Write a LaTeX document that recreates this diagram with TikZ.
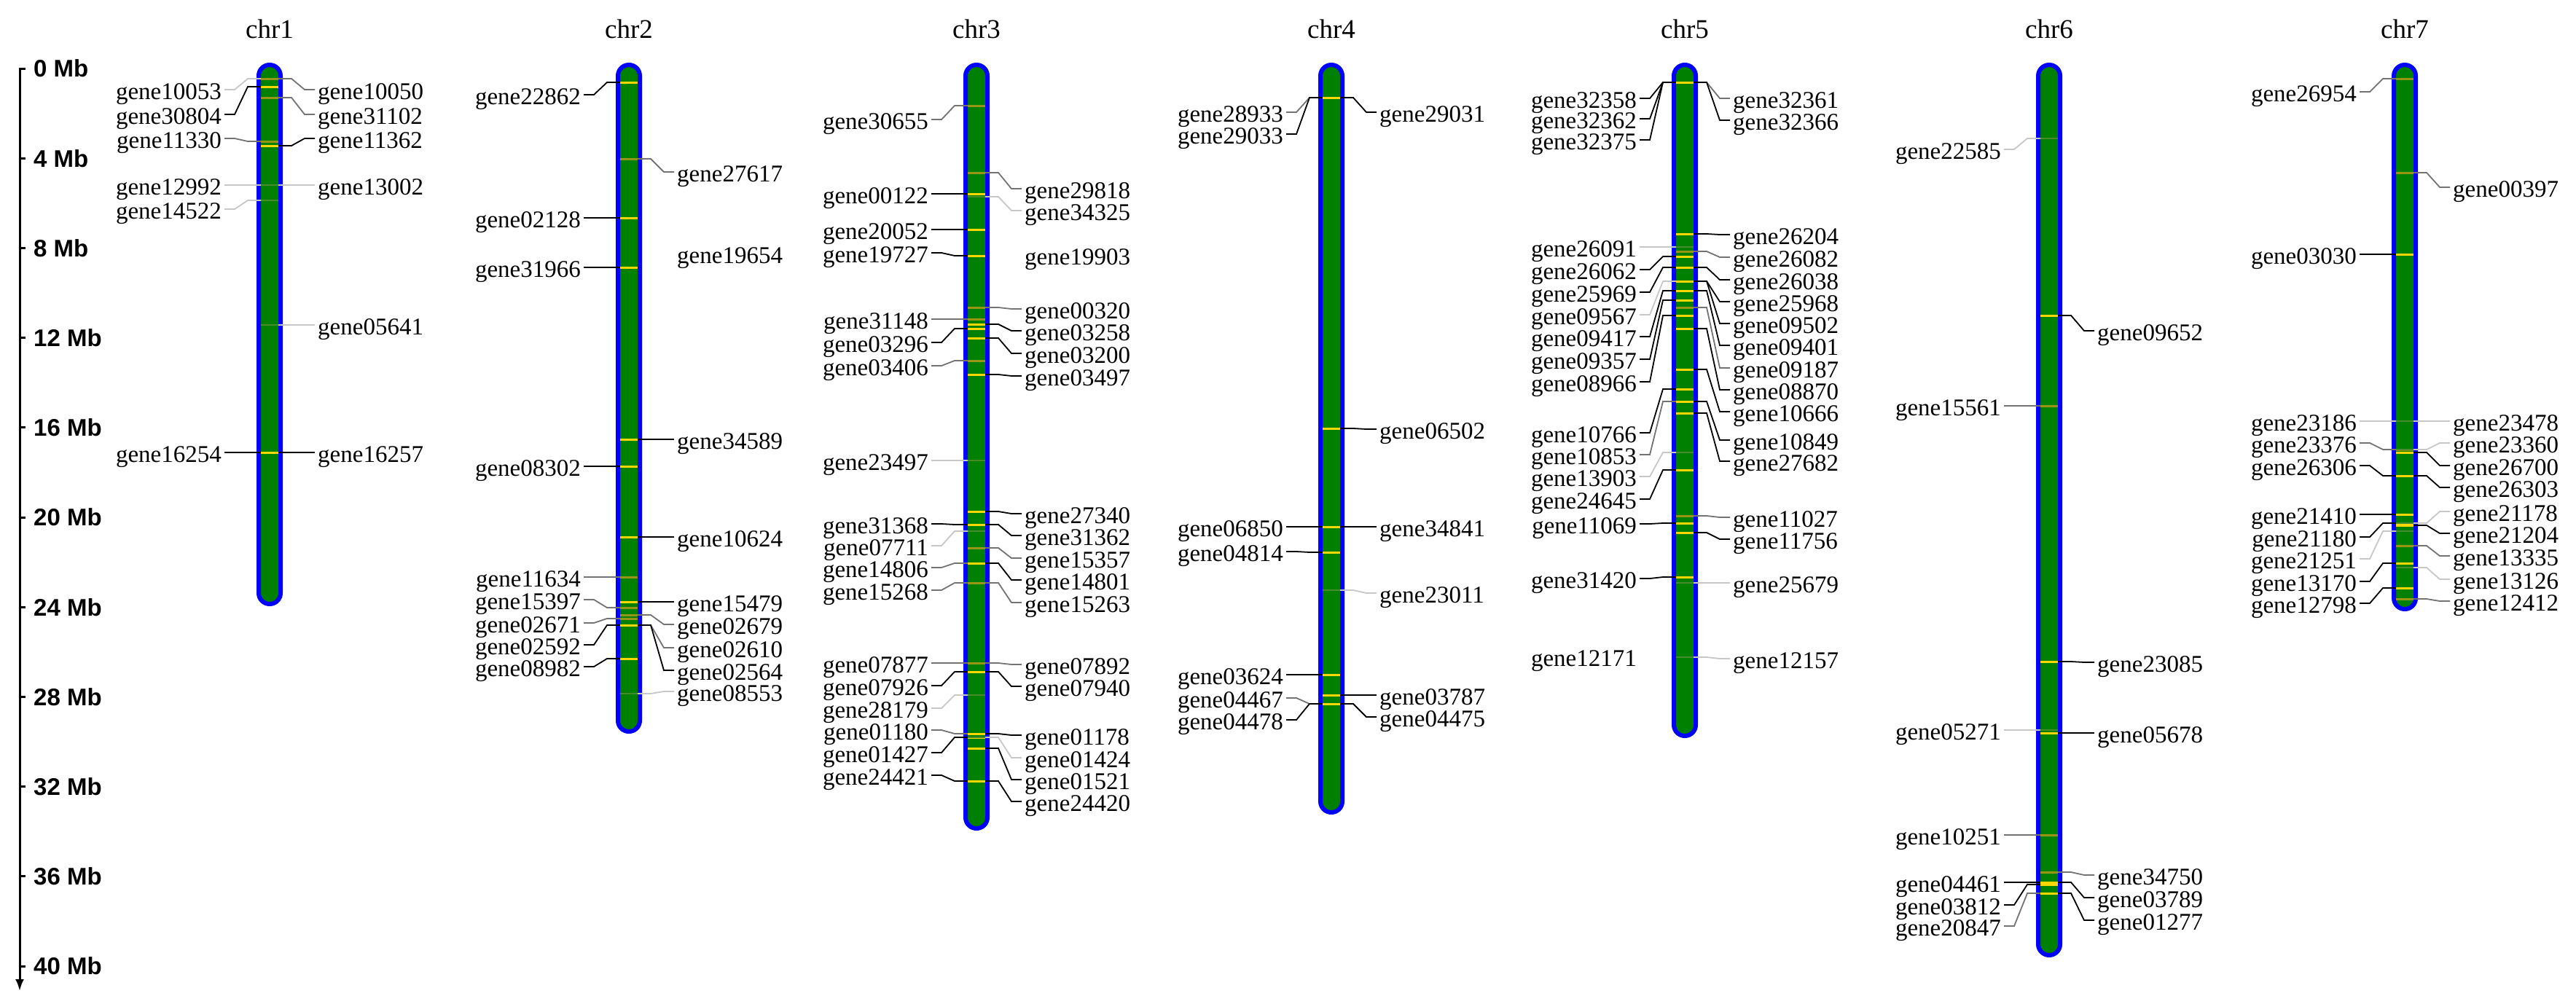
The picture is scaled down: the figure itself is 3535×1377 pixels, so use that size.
\documentclass[tikz,border=0pt]{standalone}
\usepackage{fontspec}
\setmainfont{Liberation Serif}
\newfontfamily\axisfont{Liberation Sans}
\usetikzlibrary{calc,arrows.meta}
\definecolor{chrgreen}{RGB}{0,128,0}
\definecolor{chrblue}{RGB}{0,0,255}
\definecolor{mkyellow}{RGB}{255,215,0}
\definecolor{mkolive}{RGB}{150,150,20}
\definecolor{mklight}{RGB}{70,140,45}
\tikzset{
  lab/.style={font=\fontsize{33}{36}\selectfont, inner sep=0pt},
  ctitle/.style={font=\fontsize{37}{40}\selectfont, inner sep=0pt},
  axlab/.style={font=\axisfont\bfseries\fontsize{33}{36}\selectfont, inner sep=0pt},
  axisline/.style={line width=3pt, black},
  chrbody/.style={rectangle, draw=chrblue, fill=chrgreen, line width=6pt, rounded corners=15pt, minimum width=30pt, inner sep=0pt},
  conk/.style={line width=1.8pt, black},
  cong/.style={line width=1.8pt, black!55},
  conl/.style={line width=1.8pt, black!22},
  mkk/.style={line width=3pt, mkyellow},
  mkg/.style={line width=3pt, mkolive},
  mkl/.style={line width=2.5pt, mklight},
}
\newcommand\chrom[4]{%
  \node[chrbody, minimum height={#3-92}] (#1) at (#2,{(86+#3)/2}) {};
  \node[ctitle] (#1t) at (#2,40) {#4};
}
\newcommand\gL[5]{%
  \node[lab, anchor=base east] (#2) at ({#1-66},{#3+13}) {#2};
  \coordinate (#2m) at ({#1-12},#4);
  \draw[mk#5] (#2m) -- ({#1+12},#4);
  \draw[con#5] ($(#2.base east)+(4,-13)$) -- ++(14,0) -- ({#1-30},#4) -- (#2m);
}
\newcommand\gR[5]{%
  \node[lab, anchor=base west] (#2) at ({#1+66},{#3+13}) {#2};
  \coordinate (#2m) at ({#1+12},#4);
  \draw[mk#5] ({#1-12},#4) -- (#2m);
  \draw[con#5] (#2m) -- ({#1+30},#4) -- ({#1+48},#3) -- ($(#2.base west)+(-4,-13)$);
}
\begin{document}
\begin{tikzpicture}[x=1pt, y=-1pt]
\useasboundingbox (0,0) rectangle (3535,1377);
% axis
\draw[axisline, -{Latex[length=16pt,width=12pt]}] (35,94) -- (27,94) -- (27,1360);
\foreach \m in {4,8,...,40} \draw[axisline] (27,{94+\m*30.8}) -- (35,{94+\m*30.8});
\foreach \m in {0,4,...,40} \node[axlab, anchor=west] (mb\m) at (46,{94+\m*30.8}) {\m\ Mb};
% chromosomes
\chrom{c1}{370}{832}{chr1}
\chrom{c2}{863}{1007}{chr2}
\chrom{c3}{1340}{1140}{chr3}
\chrom{c4}{1827}{1118}{chr4}
\chrom{c5}{2312}{1013}{chr5}
\chrom{c6}{2812}{1314}{chr6}
\chrom{c7}{3300}{839}{chr7}
% chr1
\gL{370}{gene10053}{123}{108}{l}
\gL{370}{gene30804}{157}{119}{k}
\gL{370}{gene11330}{190}{194}{g}
\gL{370}{gene12992}{254}{254}{l}
\gL{370}{gene14522}{287}{275}{l}
\gL{370}{gene16254}{621}{621}{k}
\gR{370}{gene10050}{123}{108}{g}
\gR{370}{gene31102}{157}{134}{g}
\gR{370}{gene11362}{190}{200}{k}
\gR{370}{gene13002}{254}{254}{l}
\gR{370}{gene05641}{446}{446}{l}
\gR{370}{gene16257}{621}{621}{k}
% chr2
\gL{863}{gene22862}{130}{113}{k}
\gL{863}{gene02128}{299}{299}{k}
\gL{863}{gene31966}{367}{367}{k}
\gL{863}{gene08302}{640}{640}{k}
\gL{863}{gene11634}{792}{792}{g}
\gL{863}{gene15397}{823}{834}{g}
\gL{863}{gene02671}{855}{849}{g}
\gL{863}{gene02592}{885}{858}{k}
\gL{863}{gene08982}{915}{904}{k}
\gR{863}{gene27617}{236}{218}{g}
\node[lab, anchor=base west] (gene19654) at (929,361) {gene19654};
\gR{863}{gene34589}{603}{603}{k}
\gR{863}{gene10624}{737}{737}{k}
\gR{863}{gene15479}{826}{826}{k}
\gR{863}{gene02679}{857}{844}{g}
\gR{863}{gene02610}{889}{858}{g}
\gR{863}{gene02564}{920}{858}{k}
\gR{863}{gene08553}{949}{952}{l}
% chr3
\gL{1340}{gene30655}{164}{145}{g}
\gL{1340}{gene00122}{266}{266}{k}
\gL{1340}{gene20052}{315}{315}{k}
\gL{1340}{gene19727}{347}{351}{k}
\gL{1340}{gene31148}{438}{438}{g}
\gL{1340}{gene03296}{470}{451}{k}
\gL{1340}{gene03406}{502}{495}{g}
\gL{1340}{gene23497}{632}{632}{l}
\gL{1340}{gene31368}{719}{720}{k}
\gL{1340}{gene07711}{749}{729}{l}
\gL{1340}{gene14806}{779}{773}{g}
\gL{1340}{gene15268}{810}{800}{g}
\gL{1340}{gene07877}{910}{910}{g}
\gL{1340}{gene07926}{941}{922}{k}
\gL{1340}{gene28179}{972}{954}{l}
\gL{1340}{gene01180}{1002}{1007}{g}
\gL{1340}{gene01427}{1033}{1012}{k}
\gL{1340}{gene24421}{1064}{1072}{k}
\gR{1340}{gene29818}{259}{237}{g}
\gR{1340}{gene34325}{289}{270}{l}
\node[lab, anchor=base west] (gene19903) at (1406,363) {gene19903};
\gR{1340}{gene00320}{424}{422}{g}
\gR{1340}{gene03258}{454}{445}{k}
\gR{1340}{gene03200}{485}{464}{k}
\gR{1340}{gene03497}{516}{514}{k}
\gR{1340}{gene27340}{705}{702}{k}
\gR{1340}{gene31362}{735}{720}{k}
\gR{1340}{gene15357}{766}{752}{g}
\gR{1340}{gene14801}{796}{773}{k}
\gR{1340}{gene15263}{827}{800}{g}
\gR{1340}{gene07892}{912}{910}{g}
\gR{1340}{gene07940}{942}{922}{k}
\gR{1340}{gene01178}{1009}{1007}{k}
\gR{1340}{gene01424}{1040}{1012}{l}
\gR{1340}{gene01521}{1070}{1027}{k}
\gR{1340}{gene24420}{1100}{1072}{k}
% chr4
\gL{1827}{gene28933}{154}{134}{g}
\gL{1827}{gene29033}{184}{134}{k}
\gL{1827}{gene06850}{723}{723}{k}
\gL{1827}{gene04814}{757}{758}{k}
\gL{1827}{gene03624}{926}{926}{k}
\gL{1827}{gene04467}{958}{966}{g}
\gL{1827}{gene04478}{988}{966}{k}
\gR{1827}{gene29031}{154}{134}{k}
\gR{1827}{gene06502}{589}{588}{k}
\gR{1827}{gene34841}{723}{723}{k}
\gR{1827}{gene23011}{814}{810}{l}
\gR{1827}{gene03787}{954}{954}{k}
\gR{1827}{gene04475}{984}{966}{k}
% chr5
\gL{2312}{gene32358}{135}{113}{k}
\gL{2312}{gene32362}{163}{113}{k}
\gL{2312}{gene32375}{192}{113}{k}
\gL{2312}{gene26091}{339}{339}{l}
\gL{2312}{gene26062}{370}{352}{k}
\gL{2312}{gene25969}{401}{367}{k}
\gL{2312}{gene09567}{432}{386}{l}
\gL{2312}{gene09417}{462}{399}{k}
\gL{2312}{gene09357}{493}{412}{k}
\gL{2312}{gene08966}{524}{433}{k}
\gL{2312}{gene10766}{594}{534}{k}
\gL{2312}{gene10853}{624}{551}{g}
\gL{2312}{gene13903}{654}{621}{l}
\gL{2312}{gene24645}{685}{645}{k}
\gL{2312}{gene11069}{719}{718}{k}
\gL{2312}{gene31420}{794}{792}{k}
\node[lab, anchor=base east] (gene12171) at (2246,914) {gene12171};
\gR{2312}{gene32361}{135}{113}{g}
\gR{2312}{gene32366}{165}{113}{k}
\gR{2312}{gene26204}{322}{321}{k}
\gR{2312}{gene26082}{353}{345}{g}
\gR{2312}{gene26038}{384}{367}{k}
\gR{2312}{gene25968}{414}{386}{k}
\gR{2312}{gene09502}{444}{386}{k}
\gR{2312}{gene09401}{474}{399}{k}
\gR{2312}{gene09187}{505}{422}{g}
\gR{2312}{gene08870}{535}{451}{k}
\gR{2312}{gene10666}{565}{507}{k}
\gR{2312}{gene10849}{604}{551}{k}
\gR{2312}{gene27682}{633}{567}{k}
\gR{2312}{gene11027}{710}{708}{g}
\gR{2312}{gene11756}{740}{731}{k}
\gR{2312}{gene25679}{800}{800}{l}
\gR{2312}{gene12157}{904}{902}{l}
% chr6
\gL{2812}{gene22585}{205}{190}{l}
\gL{2812}{gene15561}{557}{557}{g}
\gL{2812}{gene05271}{1002}{1002}{l}
\gL{2812}{gene10251}{1146}{1146}{g}
\gL{2812}{gene04461}{1211}{1211}{k}
\gL{2812}{gene03812}{1242}{1214}{k}
\gL{2812}{gene20847}{1271}{1226}{g}
\gR{2812}{gene09652}{454}{433}{k}
\gR{2812}{gene23085}{909}{908}{k}
\gR{2812}{gene05678}{1006}{1006}{k}
\gR{2812}{gene34750}{1201}{1197}{g}
\gR{2812}{gene03789}{1232}{1211}{k}
\gR{2812}{gene01277}{1263}{1226}{k}
% chr7
\gL{3300}{gene26954}{126}{108}{g}
\gL{3300}{gene03030}{349}{349}{k}
\gL{3300}{gene23186}{578}{578}{l}
\gL{3300}{gene23376}{608}{617}{g}
\gL{3300}{gene26306}{639}{653}{k}
\gL{3300}{gene21410}{706}{706}{k}
\gL{3300}{gene21180}{737}{718}{k}
\gL{3300}{gene21251}{767}{729}{l}
\gL{3300}{gene13170}{798}{773}{k}
\gL{3300}{gene12798}{828}{807}{k}
\gR{3300}{gene00397}{257}{237}{g}
\gR{3300}{gene23478}{578}{578}{l}
\gR{3300}{gene23360}{608}{617}{l}
\gR{3300}{gene26700}{639}{621}{k}
\gR{3300}{gene26303}{669}{653}{k}
\gR{3300}{gene21178}{702}{718}{l}
\gR{3300}{gene21204}{732}{721}{k}
\gR{3300}{gene13335}{763}{749}{g}
\gR{3300}{gene13126}{795}{779}{l}
\gR{3300}{gene12412}{825}{822}{g}
\end{tikzpicture}
\end{document}
